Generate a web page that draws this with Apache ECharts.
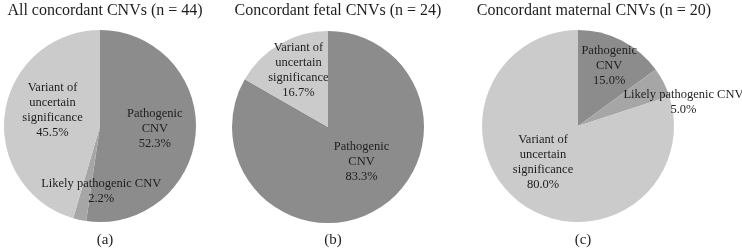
<!DOCTYPE html>
<html>
<head>
<meta charset="utf-8">
<script src="https://cdn.jsdelivr.net/npm/echarts@6/dist/echarts.min.js"></script>
<style>
  html, body { margin: 0; padding: 0; background: #fff; }
  #chart { width: 742px; height: 251px; }
</style>
</head>
<body>
<div id="chart"></div>
<script>
// categories (label text as printed)
let categories = ['Pathogenic\nCNV', 'Likely pathogenic CNV', 'Variant of\nuncertain\nsignificance'];
let titles = ['All concordant CNVs (n = 44)', 'Concordant fetal CNVs (n = 24)', 'Concordant maternal CNVs (n = 20)'];
let captions = ['(a)', '(b)', '(c)'];
// percentages per pie
let allCNV = [52.3, 2.2, 45.5];
let fetalCNV = [83.3, 0, 16.7];
let maternalCNV = [15.0, 5.0, 80.0];

let colors = ['#8c8c8c', '#a6a6a6', '#cbcbcb'];
let centers = [[100, 126], [328, 127], [578, 126]];
let titleX = [100, 333, 589];
// label nudges from the 'inside' position
let nudges = [
  [[4, -1], [12, 15], [3, -9]],
  [[8, -9], [0, 0], [-4, -13]],
  [[8, -15], [60, -1], [-5, -5]]
];
let font = '"Liberation Serif", "DejaVu Serif", serif';

let chart = echarts.init(document.getElementById('chart'));

function buildSeries(values, idx) {
  let data = [];
  values.forEach((v, i) => {
    if (v <= 0) return;
    data.push({
      name: categories[i],
      value: v,
      itemStyle: { color: colors[i] },
      label: { offset: nudges[idx][i] }
    });
  });
  return {
    type: 'pie',
    center: centers[idx],
    radius: 96,
    startAngle: 90,
    clockwise: true,
    silent: true,
    itemStyle: { borderWidth: 0 },
    label: {
      position: 'inside',
      color: '#1e1e1e',
      fontFamily: font,
      fontSize: 12.5,
      lineHeight: 15,
      formatter: (p) => p.name + '\n' + p.value.toFixed(1) + '%'
    },
    labelLayout: { hideOverlap: false },
    labelLine: { show: false },
    emphasis: { disabled: true },
    data: data
  };
}

let option = {
  backgroundColor: '#fff',
  animation: false,
  title: titles.map((t, i) => ({
    text: t,
    left: titleX[i],
    top: -2,
    textAlign: 'center',
    textStyle: { fontFamily: font, fontSize: 16, fontWeight: 'normal', color: '#1e1e1e' }
  })).concat(captions.map((c, i) => ({
    text: c,
    left: centers[i][0],
    top: 228,
    textAlign: 'center',
    textStyle: { fontFamily: font, fontSize: 15, fontWeight: 'normal', color: '#1e1e1e' }
  }))),
  series: [
    buildSeries(allCNV, 0),
    buildSeries(fetalCNV, 1),
    buildSeries(maternalCNV, 2)
  ]
};

chart.setOption(option);
</script>
</body>
</html>
